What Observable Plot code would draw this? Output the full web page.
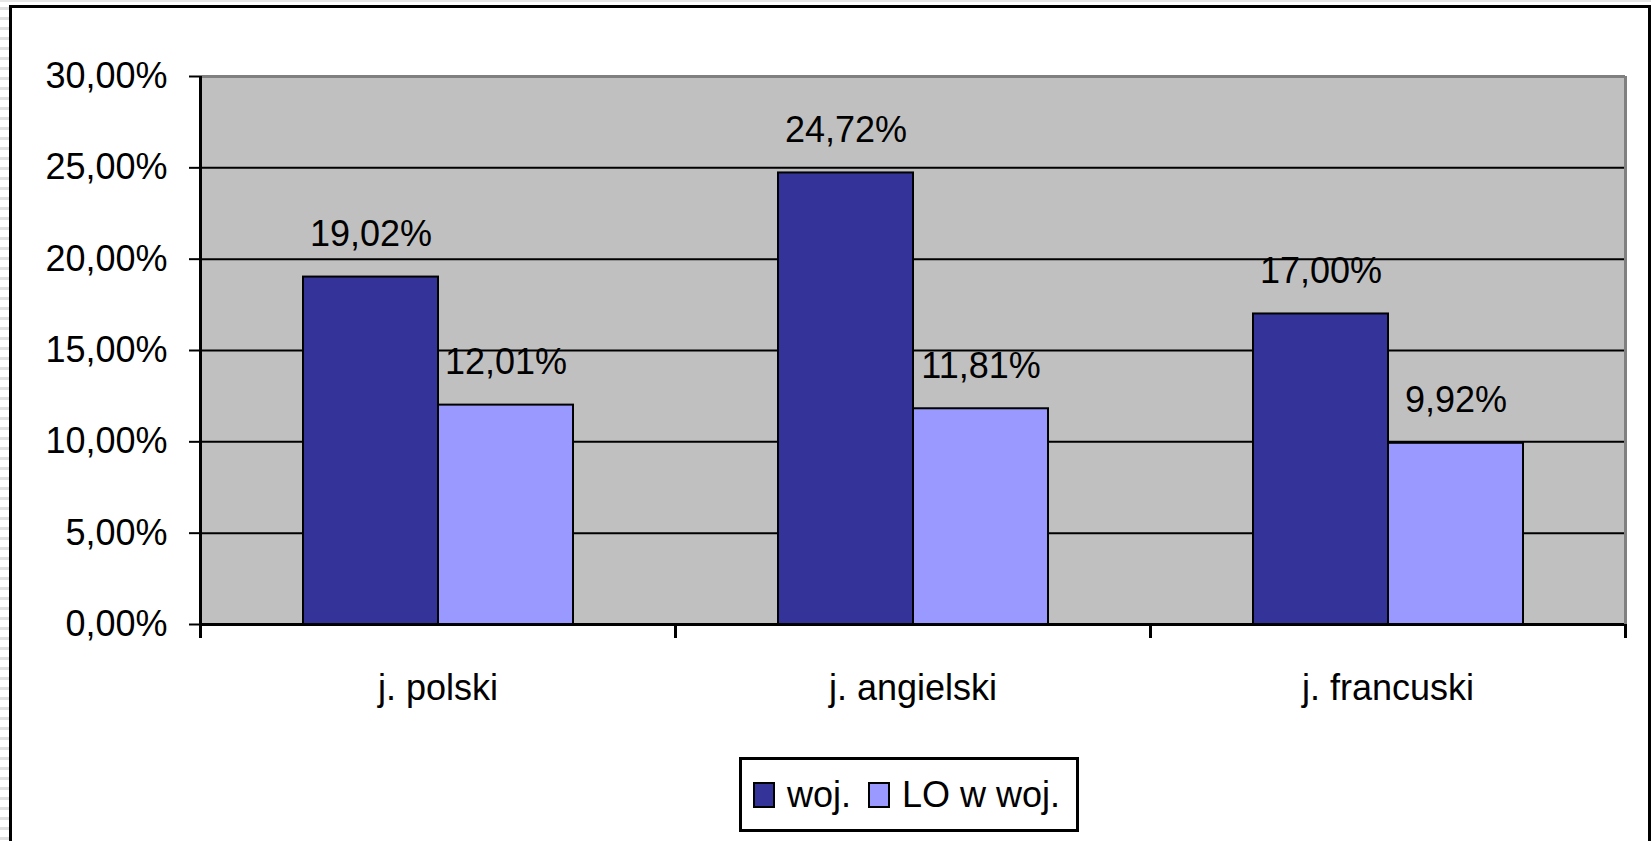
<!DOCTYPE html>
<html>
<head>
<meta charset="utf-8">
<script src="https://cdn.jsdelivr.net/npm/d3@7"></script>
<script src="https://cdn.jsdelivr.net/npm/@observablehq/plot@0.6"></script>
<style>
html, body { margin: 0; padding: 0; background: #fff; overflow: hidden; width: 1651px; height: 841px; }
#stripes { position: absolute; left: 0; top: 0; width: 9px; height: 841px;
  background: repeating-linear-gradient(to bottom, #fff 0px, #fff 7px, #e0e0e0 7px, #e0e0e0 10px); }
#topline { position: absolute; left: 0; top: 0; width: 1651px; height: 2px; background: #e6e6e6; }
#frame { position: absolute; left: 9px; top: 5px; width: 1642px; height: 900px; box-sizing: border-box;
  border: 3px solid #000; border-bottom: none; background: #fff; }
#chart { position: absolute; left: 0; top: 0; }
#legend { position: absolute; left: 739px; top: 757px; width: 340px; height: 75px; box-sizing: border-box;
  border: 3px solid #000; background: #fff; display: flex; align-items: center; padding-left: 11px;
  font-family: "Liberation Sans", Arial, sans-serif; font-size: 36px; color: #000; }
#legend .sw { width: 18px; height: 22px; border: 2px solid #000; margin-right: 12px; flex: none; }
#legend .item { display: flex; align-items: center; margin-right: 17px; white-space: nowrap; }
</style>
</head>
<body>
<div id="stripes"></div>
<div id="topline"></div>
<div id="frame"></div>
<div id="chart"></div>
<div id="legend"></div>
<script>
const categories = ["j. polski", "j. angielski", "j. francuski"];
const series = ["woj.", "LO w woj."];
const wojValues = [19.02, 24.72, 17.00];
const loValues = [12.01, 11.81, 9.92];
const yTicks = [0, 5, 10, 15, 20, 25, 30];
const gridTicks = [5, 10, 15, 20, 25];
const topTick = [30];
const seriesColors = ["#333399", "#9999FF"];

const data = categories.flatMap((c, i) => [
  {category: c, series: series[0], value: wojValues[i]},
  {category: c, series: series[1], value: loValues[i]}
]);
const pct = v => v.toFixed(2).replace(".", ",") + "%";

const W = 1651, H = 752, ML = 200, MR = 26, MT = 76, MB = H - 624;
const bw = (W - ML - MR) / categories.length;
const last = categories[categories.length - 1];

const chart = Plot.plot({
  width: W, height: H,
  marginLeft: ML, marginRight: MR, marginTop: MT, marginBottom: MB,
  style: {background: "transparent", fontFamily: "'Liberation Sans', Arial, sans-serif", fontSize: "36px", color: "#000", overflow: "visible"},
  fx: {domain: categories, paddingInner: 0, paddingOuter: 0, round: false, label: null},
  x: {domain: series, paddingInner: 0, paddingOuter: 0.75, axis: null, label: null},
  y: {domain: [0, 30], label: null},
  color: {domain: series, range: seriesColors},
  marks: [
    Plot.frame({fill: "#C0C0C0", stroke: null, insetLeft: -1, insetRight: -1}),
    Plot.ruleY(gridTicks, {stroke: "#000", strokeWidth: 2}),
    Plot.ruleY(topTick, {stroke: "#808080", strokeWidth: 3}),
    Plot.barY(data, {fx: "category", x: "series", y: "value", fill: "series", stroke: "#000", strokeWidth: 2}),
    Plot.text(data, {fx: "category", x: "series", y: "value", text: d => pct(d.value), dy: -31, lineAnchor: "bottom", fontSize: 36, fill: "#000"}),
    Plot.ruleY([0], {stroke: "#000", strokeWidth: 3}),
    Plot.gridFx({ticks: [categories[0]], dx: -bw / 2, stroke: "#000", strokeOpacity: 1, strokeWidth: 3}),
    Plot.gridFx({ticks: [last], dx: bw / 2, stroke: "#808080", strokeOpacity: 1, strokeWidth: 3}),
    Plot.axisY({ticks: yTicks, tickFormat: pct, tickSize: 11, tickPadding: 22, fontSize: 36, strokeWidth: 2, label: null}),
    Plot.axisFx({anchor: "bottom", ticks: categories, tickSize: 14, tickFormat: () => "", dx: -bw / 2, strokeWidth: 3, label: null}),
    Plot.axisFx({anchor: "bottom", ticks: [last], tickSize: 14, tickFormat: () => "", dx: bw / 2, strokeWidth: 3, label: null}),
    Plot.axisFx({anchor: "bottom", tickSize: 0, tickPadding: 50, fontSize: 36, label: null})
  ]
});
document.getElementById("chart").appendChild(chart);

const color = chart.scale("color");
const legend = document.getElementById("legend");
series.forEach(s => {
  const item = document.createElement("div");
  item.className = "item";
  const sw = document.createElement("div");
  sw.className = "sw";
  sw.style.background = color.apply(s);
  const label = document.createElement("span");
  label.textContent = s;
  item.appendChild(sw);
  item.appendChild(label);
  legend.appendChild(item);
});
</script>
</body>
</html>
